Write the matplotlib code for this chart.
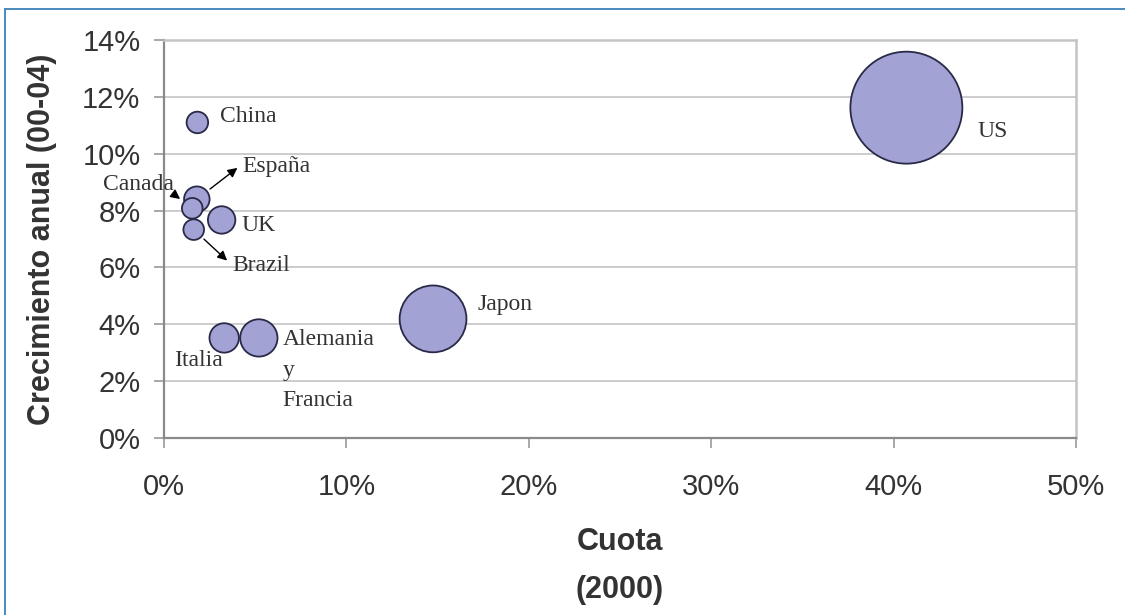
import matplotlib
matplotlib.use("Agg")
import matplotlib.pyplot as plt
from matplotlib.lines import Line2D
from matplotlib.ticker import MultipleLocator, FuncFormatter

# Cuota de mercado (2000), crecimiento anual 2000-04 y tamaño relativo de cada burbuja
paises = ["US", "Japon", "Alemania", "Italia", "China", "España", "Canada", "UK", "Brazil"]
etiquetas = ["US", "Japon", "Alemania\ny\nFrancia", "Italia", "China", "España", "Canada", "UK", "Brazil"]
cuota = [40.7, 14.75, 5.2, 3.3, 1.83, 1.8, 1.55, 3.16, 1.63]
crecimiento = [11.62, 4.19, 3.52, 3.52, 11.1, 8.4, 8.08, 7.67, 7.33]
tamano = [100, 35.6, 11.1, 6.9, 3.7, 5.2, 3.4, 6.0, 3.4]

x_ticks = [0, 10, 20, 30, 40, 50]
y_ticks = [0, 2, 4, 6, 8, 10, 12, 14]

SANS = ["Liberation Sans", "Arial", "DejaVu Sans"]
SERIF = ["Liberation Serif", "Times New Roman", "DejaVu Serif"]
TXT = "#333333"

W, H = 1125, 615
fig = plt.figure(figsize=(W / 100, H / 100), dpi=100)
fig.patch.set_facecolor("white")

ax = fig.add_axes([164 / W, (H - 438) / H, 912 / W, 398 / H])
ax.set_xlim(x_ticks[0], x_ticks[-1])
ax.set_ylim(y_ticks[0], y_ticks[-1])
ax.xaxis.set_major_locator(MultipleLocator(10))
ax.yaxis.set_major_locator(MultipleLocator(2))
pct = FuncFormatter(lambda v, _: f"{v:.0f}%")
ax.xaxis.set_major_formatter(pct)
ax.yaxis.set_major_formatter(pct)

ax.grid(axis="y", color="#c8c8c8", linewidth=1.3, zorder=0)
ax.set_axisbelow(True)
for side in ("top", "right"):
    ax.spines[side].set_color("#c4c4c4")
    ax.spines[side].set_linewidth(1.8)
for side in ("left", "bottom"):
    ax.spines[side].set_color("#8a8a8a")
    ax.spines[side].set_linewidth(1.6)

ax.tick_params(axis="both", direction="out", length=7, width=1.2, color="#999999",
               labelcolor=TXT, labelsize=21)
ax.tick_params(axis="x", pad=18.5)
ax.tick_params(axis="y", pad=10)
for lab in ax.get_xticklabels() + ax.get_yticklabels():
    lab.set_family(SANS)

# Burbujas: el área del marcador es proporcional al tamaño
escala = 65.0
ax.scatter(cuota, crecimiento, s=[t * escala for t in tamano],
           facecolor="#a2a2d4", edgecolor="#2a2a48", linewidth=1.3, zorder=3)

txt_kw = dict(textcoords="offset points", fontsize=17, family=SERIF, color=TXT, zorder=5)
arrow_kw = dict(color="black", lw=1.0, mutation_scale=14)

offsets = {
    "US": ((51.5, -17), "left", "center"),
    "Japon": ((31.7, 10), "left", "center"),
    "China": ((16.3, 4.5), "left", "center"),
    "UK": ((14.6, -4.3), "left", "center"),
    "Italia": ((-0.7, -16.5), "right", "center"),
    "Alemania": ((17, 6.5), "left", "top"),
}

for nombre, etiqueta, x, y in zip(paises, etiquetas, cuota, crecimiento):
    if nombre in offsets:
        off, ha, va = offsets[nombre]
        ax.annotate(etiqueta, xy=(x, y), xytext=off, ha=ha, va=va,
                    linespacing=1.6, **txt_kw)
    elif nombre == "España":
        ax.annotate(etiqueta, xy=(x, y), xytext=(32.8, 23.8), ha="left", va="center",
                    arrowprops=dict(arrowstyle="<|-", relpos=(0.0, 0.6),
                                    shrinkA=2, shrinkB=12, **arrow_kw), **txt_kw)
    elif nombre == "Brazil":
        ax.annotate(etiqueta, xy=(x, y), xytext=(27.5, -25.5), ha="left", va="center",
                    arrowprops=dict(arrowstyle="<|-", relpos=(0.0, 0.5),
                                    shrinkA=2, shrinkB=10, **arrow_kw), **txt_kw)
    elif nombre == "Canada":
        ax.annotate(etiqueta, xy=(x, y), xytext=(-13.5, 16.8), ha="right", va="center",
                    arrowprops=dict(arrowstyle="-|>", relpos=(0.95, 0.2),
                                    shrinkA=0, shrinkB=11, **arrow_kw), **txt_kw)

ax.set_xlabel("Cuota\n(2000)", fontsize=22, fontweight="bold", family=SANS,
              color=TXT, linespacing=1.8, va="top")
ax.xaxis.set_label_coords(0.5, (438 - 527) / 398)
ax.set_ylabel("Crecimiento anual (00-04)", fontsize=22, fontweight="bold",
              family=SANS, color=TXT)
ax.yaxis.set_label_coords((57 - 164) / 912, 0.5)

# Marco azul del recuadro
fig.add_artist(Line2D([5 / W, 5 / W], [0, 1 - 9 / H], transform=fig.transFigure,
                      color="#4a8abf", linewidth=1.4))
fig.add_artist(Line2D([5 / W, 1], [1 - 9 / H, 1 - 9 / H], transform=fig.transFigure,
                      color="#4a8abf", linewidth=1.4))

fig.savefig("out.png", dpi=100, facecolor="white")
